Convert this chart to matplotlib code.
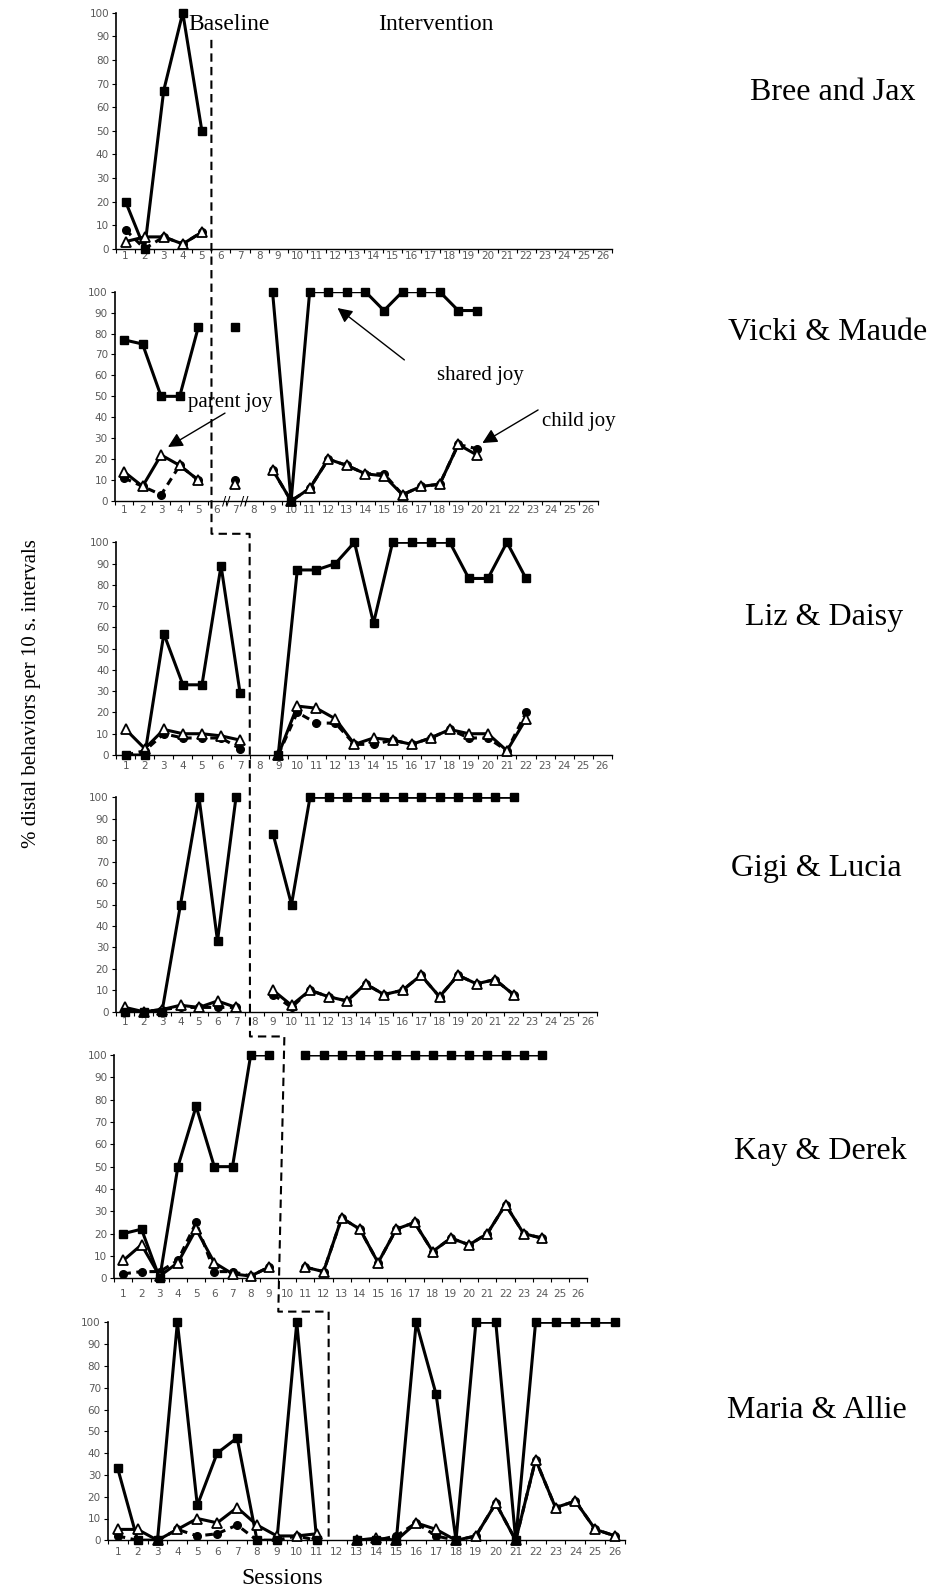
import numpy as np
import matplotlib
matplotlib.use("Agg")
import matplotlib.pyplot as plt
from matplotlib.lines import Line2D

nan = np.nan

# ---------------- data ----------------
names = ["Bree and Jax", "Vicki & Maude", "Liz & Daisy", "Gigi & Lucia", "Kay & Derek", "Maria & Allie"]

shared_1 = [20, 0, 67, 100, 50]
parent_1 = [3, 5, 5, 2, 7]
child_1 = [8, 0, 5, 2, 7]

shared_2 = [77, 75, 50, 50, 83, nan, 83, nan, 100, 0, 100, 100, 100, 100, 91, 100, 100, 100, 91, 91]
parent_2 = [14, 7, 22, 17, 10, nan, 8, nan, 15, 0, 6, 20, 17, 13, 12, 3, 7, 8, 27, 22]
child_2 = [11, 7, 3, 17, 10, nan, 10, nan, 15, 0, 6, 20, 17, 13, 13, 3, 7, 8, 27, 25]

shared_3 = [0, 0, 57, 33, 33, 89, 29, nan, 0, 87, 87, 90, 100, 62, 100, 100, 100, 100, 83, 83, 100, 83]
parent_3 = [12, 3, 12, 10, 10, 9, 7, nan, 0, 23, 22, 17, 5, 8, 7, 5, 8, 12, 10, 10, 2, 17]
child_3 = [0, 2, 10, 8, 8, 8, 3, nan, 0, 20, 15, 15, 5, 5, 7, 5, 8, 12, 8, 8, 2, 20]

shared_4 = [0, 0, 0, 50, 100, 33, 100, nan, 83, 50, 100, 100, 100, 100, 100, 100, 100, 100, 100, 100, 100, 100]
parent_4 = [2, 0, 1, 3, 2, 5, 2, nan, 10, 3, 10, 7, 5, 13, 8, 10, 17, 7, 17, 13, 15, 8]
child_4 = [0, 0, 1, 2, 2, 2, 2, nan, 8, 2, 10, 7, 5, 13, 8, 10, 17, 7, 17, 13, 15, 8]

shared_5 = [20, 22, 0, 50, 77, 50, 50, 100, 100, nan, 100, 100, 100, 100, 100, 100, 100, 100, 100, 100, 100, 100, 100, 100]
parent_5 = [8, 15, 1, 7, 22, 7, 2, 1, 5, nan, 5, 3, 27, 22, 7, 22, 25, 12, 18, 15, 20, 33, 20, 18]
child_5 = [2, 3, 3, 8, 25, 3, 3, 1, 5, nan, 5, 3, 27, 22, 7, 22, 25, 12, 18, 15, 20, 33, 20, 18]

shared_6 = [33, 0, 0, 100, 16, 40, 47, 0, 0, 100, 0, nan, 0, 0, 0, 100, 67, 0, 100, 100, 0, 100, 100, 100, 100, 100]
parent_6 = [5, 5, 0, 5, 10, 8, 15, 7, 2, 2, 3, nan, 0, 1, 0, 8, 5, 0, 2, 17, 0, 37, 15, 18, 5, 2]
child_6 = [2, 0, 0, 5, 2, 3, 7, 0, 0, 2, 0, nan, 0, 0, 2, 8, 2, 0, 2, 17, 0, 37, 15, 18, 5, 2]

shared = [shared_1, shared_2, shared_3, shared_4, shared_5, shared_6]
parent = [parent_1, parent_2, parent_3, parent_4, parent_5, parent_6]
child = [child_1, child_2, child_3, child_4, child_5, child_6]

session_labels = [str(i) for i in range(1, 27)]
y_ticks = list(range(0, 101, 10))

# ---------------- layout ----------------
W, H = 932, 1591
fig = plt.figure(figsize=(W / 100, H / 100), dpi=100)

# (x at 0.5, x at 26.5, y pixel of 0, y pixel of 100), top-origin pixels
boxes = [(116, 612, 248.7, 12.7), (114.7, 597.5, 501, 291.7), (116.2, 611.8, 755, 542.3),
         (115.75, 596.75, 1011.7, 797.3), (114.2, 587.4, 1278.3, 1055), (107.75, 625.15, 1540.3, 1322.3)]
xpads = [2, 3, 4, 4, 8, 5]
name_pos = [(833, 93), (828, 333), (824, 618), (816, 868), (820, 1151), (817, 1410)]

SERIF = "Liberation Serif"
GRAY = "#595959"
LW = 2.2

axes = []
for i, (xl, xr, y0, y1) in enumerate(boxes):
    ax = fig.add_axes([xl / W, 1 - y0 / H, (xr - xl) / W, (y0 - y1) / H])
    axes.append(ax)
    ax.set_xlim(0.5, 26.5)
    ax.set_ylim(0, 100)
    for s in ["top", "right"]:
        ax.spines[s].set_visible(False)
    ax.spines["left"].set_linewidth(1.2)
    ax.spines["bottom"].set_linewidth(1.0)
    ax.set_yticks(y_ticks)
    ax.set_yticklabels([str(v) for v in y_ticks])
    ax.set_xticks(range(1, 27))
    ax.set_xticklabels(session_labels)
    ax.set_xticks(np.arange(0.5, 27, 1), minor=True)
    ax.tick_params(axis="x", which="major", length=0, pad=xpads[i], labelsize=7.5, labelcolor=GRAY)
    ax.tick_params(axis="x", which="minor", length=3, width=0.8, direction="out")
    ax.tick_params(axis="y", length=3, width=0.8, direction="out", pad=2, labelsize=7.5, labelcolor=GRAY)

    n = len(shared[i])
    x = np.arange(1, n + 1)
    c = np.array(child[i], dtype=float)
    p = np.array(parent[i], dtype=float)
    s = np.array(shared[i], dtype=float)
    # lines (clipped to the plot area like Excel)
    ax.plot(x, c, color="black", lw=LW, ls=(0, (2.5, 1.8)), zorder=2)
    ax.plot(x, p, color="black", lw=LW, zorder=3)
    ax.plot(x, s, color="black", lw=LW, zorder=4)
    # markers unclipped
    ax.plot(x, c, ls="none", marker="o", ms=5.5, color="black", zorder=5, clip_on=False)
    ax.plot(x, p, ls="none", marker="^", ms=7, mfc="white", mec="black", mew=1.3, zorder=6, clip_on=False)
    ax.plot(x, s, ls="none", marker="s", ms=6, color="black", zorder=7, clip_on=False)

    fig.text(name_pos[i][0] / W, 1 - name_pos[i][1] / H, names[i], family=SERIF,
             fontsize=23, ha="center", va="center")

# break marks on Vicki & Maude axis
for bx in (6.5, 7.5):
    axes[1].text(bx, 0, "//", ha="center", va="center", fontsize=9, color="black",
                 transform=axes[1].transData, clip_on=False, zorder=8)

# annotations in panel 2
ax2 = axes[1]
arrow_kw = dict(arrowstyle="-|>", mutation_scale=22, lw=1.0, color="black", shrinkA=0, shrinkB=0)
ax2.text(6.71, 47.3, "parent joy", family=SERIF, fontsize=15, ha="center", va="center")
ax2.annotate("", xy=(3.37, 25.8), xytext=(6.44, 42), arrowprops=arrow_kw, annotation_clip=False)
ax2.text(20.2, 60.2, "shared joy", family=SERIF, fontsize=15, ha="center", va="center")
ax2.annotate("", xy=(12.5, 92.2), xytext=(16.1, 67.4), arrowprops=arrow_kw, annotation_clip=False)
ax2.text(25.5, 38.2, "child joy", family=SERIF, fontsize=15, ha="center", va="center", clip_on=False)
ax2.annotate("", xy=(20.3, 27.7), xytext=(23.3, 43.5), arrowprops=arrow_kw, annotation_clip=False)

# phase change line (axis index, x, y in that axis' data coords)
phase_pts = [(0, 5.5, 88.5), (2, 5.5, 104), (2, 7.5, 104), (4, 7.96, 108.3), (4, 9.85, 108.3),
             (5, 9.07, 104.9), (5, 11.6, 104.9), (5, 11.6, 0)]
inv = fig.transFigure.inverted()
fx, fy = [], []
for ai, xx, yy in phase_pts:
    pt = inv.transform(axes[ai].transData.transform((xx, yy)))
    fx.append(pt[0]); fy.append(pt[1])
fig.add_artist(Line2D(fx, fy, transform=fig.transFigure, color="black", lw=1.5,
                      ls=(0, (4, 2.5)), zorder=10))

# phase labels
fig.text(229 / W, 1 - 25 / H, "Baseline", family=SERIF, fontsize=17, ha="center", va="center")
fig.text(436 / W, 1 - 25 / H, "Intervention", family=SERIF, fontsize=17, ha="center", va="center")

# axis titles
fig.text(32 / W, 1 - 694 / H, "% distal behaviors per 10 s. intervals", family=SERIF, fontsize=15,
         rotation=90, ha="center", va="center")
fig.text(282.5 / W, 1 - 1578 / H, "Sessions", family=SERIF, fontsize=17, ha="center", va="center")

fig.savefig("out.png", dpi=100)
